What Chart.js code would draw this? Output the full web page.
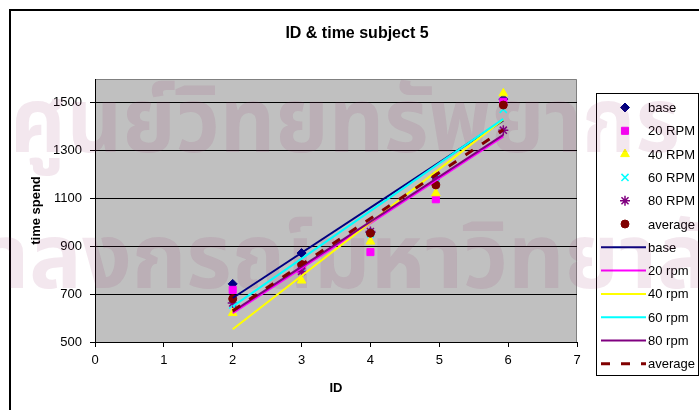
<!DOCTYPE html>
<html>
<head>
<meta charset="utf-8">
<title>ID & time subject 5</title>
<script src="https://cdn.jsdelivr.net/npm/chart.js@4.4.1/dist/chart.umd.min.js"></script>
<style>
  html, body { margin: 0; padding: 0; background: #fff; }
  #wrap { width: 699px; height: 410px; }
  canvas { display: block; }
</style>
</head>
<body>
<div id="wrap"><canvas id="chart" width="699" height="410"></canvas></div>
<script>
// Index of difficulty for each target
const ids = [2, 3, 4, 4.95, 5.93];

// Measured time for each condition
const base    = [743, 872, 958, 1190, 1516];
const rpm20   = [718, 800, 876, 1097, 1505];
const rpm40   = [621, 757, 920, 1122, 1540];
const rpm60   = [655, 812, 952, 1185, 1473];
const rpm80   = [663, 795, 962, 1191, 1386];
const average = [681, 824, 955, 1157, 1491];

// Linear trend lines (value at the first and last ID)
const fitIds     = [2, 5.93];
const baseFit    = [684, 1427];
const rpm20Fit   = [621, 1360];
const rpm40Fit   = [553, 1431];
const rpm60Fit   = [649, 1433];
const rpm80Fit   = [627, 1366];
const averageFit = [631, 1388];

// Axis ticks
const xTicks = [0, 1, 2, 3, 4, 5, 6, 7];
const yTicks = [500, 700, 900, 1100, 1300, 1500];

const titleText = 'ID & time subject 5';
const FONT = '"Liberation Sans", Arial, sans-serif';

const pts = ys => ids.map((x, i) => ({ x, y: ys[i] }));
const fit = ys => fitIds.map((x, i) => ({ x, y: ys[i] }));

function pointSet(label, ys, color, style, radius, order, bw) {
  return {
    label, data: pts(ys), showLine: false,
    pointStyle: style, pointRadius: radius, pointHoverRadius: radius,
    backgroundColor: color, borderColor: color, pointBorderWidth: bw || 1,
    order
  };
}
function lineSet(label, ys, color, order, width, dash) {
  return {
    label, data: fit(ys), showLine: true, fill: false, tension: 0,
    borderColor: color, backgroundColor: color, borderWidth: width || 2,
    borderDash: dash || [], pointRadius: 0, pointHoverRadius: 0,
    order
  };
}

const datasets = [
  pointSet('base',    base,    '#000080', 'rectRot',  4.5, 12),
  pointSet('20 RPM',  rpm20,   '#FF00FF', 'rect',     5,   11),
  pointSet('40 RPM',  rpm40,   '#FFFF00', 'triangle', 5,   10),
  pointSet('60 RPM',  rpm60,   '#00FFFF', 'crossRot', 5,   9, 1.5),
  pointSet('80 RPM',  rpm80,   '#800080', 'star',     5,   8, 1.5),
  pointSet('average', average, '#800000', 'circle',   4,   7),
  lineSet('base',    baseFit,    '#000080', 6),
  lineSet('20 rpm',  rpm20Fit,   '#FF00FF', 5),
  lineSet('40 rpm',  rpm40Fit,   '#FFFF00', 4),
  lineSet('60 rpm',  rpm60Fit,   '#00FFFF', 3),
  lineSet('80 rpm',  rpm80Fit,   '#800080', 2),
  lineSet('average', averageFit, '#800000', 1, 3, [9, 11])
];

// Page frame, grey plot area, title and the legend box on the right
const frame = {
  id: 'frame',
  beforeDraw(chart) {
    const { ctx, chartArea: a } = chart;
    ctx.save();
    ctx.fillStyle = '#fff';
    ctx.fillRect(0, 0, chart.width, chart.height);
    ctx.fillStyle = '#C0C0C0';
    ctx.fillRect(a.left, a.top, a.right - a.left, a.bottom - a.top);
    ctx.strokeStyle = '#808080';
    ctx.lineWidth = 1;
    ctx.beginPath();
    ctx.moveTo(a.left, a.top + 0.5);
    ctx.lineTo(a.right - 0.5, a.top + 0.5);
    ctx.lineTo(a.right - 0.5, a.bottom);
    ctx.stroke();

    ctx.strokeStyle = '#000';
    ctx.lineWidth = 2;
    ctx.strokeRect(10, 10, chart.width + 20, chart.height + 20);

    ctx.fillStyle = '#000';
    ctx.font = 'bold 16px ' + FONT;
    ctx.textAlign = 'center';
    ctx.textBaseline = 'middle';
    ctx.fillText(titleText, 357, 34);

    // legend
    const lx = 596, ly = 93, lw = 102, lh = 282;
    ctx.fillStyle = '#fff';
    ctx.fillRect(lx, ly, lw, lh);
    ctx.strokeStyle = '#000';
    ctx.lineWidth = 1;
    ctx.strokeRect(lx + 0.5, ly + 0.5, lw, lh);
    ctx.font = '13px ' + FONT;
    ctx.textAlign = 'left';
    chart.data.datasets.forEach((ds, i) => {
      const y = 107.5 + i * 23.3;
      if (ds.showLine) {
        ctx.save();
        ctx.strokeStyle = ds.borderColor;
        ctx.lineWidth = ds.borderWidth;
        ctx.setLineDash(ds.borderDash);
        ctx.beginPath();
        ctx.moveTo(601, y);
        ctx.lineTo(646, y);
        ctx.stroke();
        ctx.restore();
      } else {
        ctx.save();
        ctx.fillStyle = ds.backgroundColor;
        ctx.strokeStyle = ds.borderColor;
        ctx.lineWidth = ds.pointBorderWidth;
        Chart.helpers.drawPoint(ctx, {
          pointStyle: ds.pointStyle, radius: ds.pointRadius,
          rotation: 0, borderWidth: ds.pointBorderWidth
        }, 625, y);
        ctx.restore();
      }
      ctx.fillStyle = '#000';
      ctx.textBaseline = 'middle';
      ctx.fillText(ds.label, 648, y + 1);
    });
    ctx.restore();
  }
};

// Faint library stamp printed across the page
function stampLine(ctx, text, left, width, baseline, px, sy) {
  ctx.save();
  ctx.font = 'bold ' + px + 'px "Noto Sans Thai", "Noto Sans", "DejaVu Sans", sans-serif';
  const w = ctx.measureText(text).width;
  ctx.translate(left, baseline);
  ctx.scale(width / w, sy);
  ctx.textBaseline = 'alphabetic';
  ctx.textAlign = 'left';
  ctx.fillText(text, 0, 0);
  ctx.restore();
}
const stamp = {
  id: 'stamp',
  beforeDatasetsDraw(chart) {
    const ctx = chart.ctx;
    ctx.save();
    ctx.fillStyle = 'rgba(150, 40, 100, 0.11)';
    stampLine(ctx, 'ศูนย์วิทยทรัพยากร', 10, 670, 152, 62, 1.45);
    stampLine(ctx, 'จุฬาลงกรณ์มหาวิทยาลัย', -120, 884, 288, 62, 1.45);
    ctx.restore();
  }
};

new Chart(document.getElementById('chart'), {
  type: 'scatter',
  data: { datasets },
  options: {
    responsive: false,
    animation: false,
    devicePixelRatio: 1,
    layout: { padding: { left: 15, right: 122, top: 79, bottom: 0 } },
    plugins: {
      legend: { display: false },
      tooltip: { enabled: false },
      title: { display: false }
    },
    scales: {
      x: {
        type: 'linear', min: 0, max: 7,
        afterBuildTicks: s => { s.ticks = xTicks.map(v => ({ value: v })); },
        afterFit: s => { s.height = 68; },
        grid: { drawOnChartArea: false, drawTicks: true, tickLength: 5, color: '#000' },
        border: { color: '#000', width: 1 },
        ticks: { color: '#000', font: { family: FONT, size: 13 }, padding: 6, maxRotation: 0,
                 autoSkip: false, callback: v => String(v) },
        title: { display: true, text: 'ID', color: '#000',
                 font: { family: FONT, size: 13, weight: 'bold' }, padding: { top: 0, bottom: 14 } }
      },
      y: {
        type: 'linear', min: 500, max: 1600,
        afterBuildTicks: s => { s.ticks = yTicks.map(v => ({ value: v })); },
        afterFit: s => { s.width = 80; },
        grid: { color: '#000', lineWidth: 1, drawTicks: true, tickLength: 5 },
        border: { color: '#000', width: 1 },
        ticks: { color: '#000', font: { family: FONT, size: 13 }, padding: 8, callback: v => String(v) },
        title: { display: true, text: 'time spend', color: '#000',
                 font: { family: FONT, size: 13, weight: 'bold' }, padding: { top: 14, bottom: 0 } }
      }
    }
  },
  plugins: [frame, stamp]
});
</script>
</body>
</html>
